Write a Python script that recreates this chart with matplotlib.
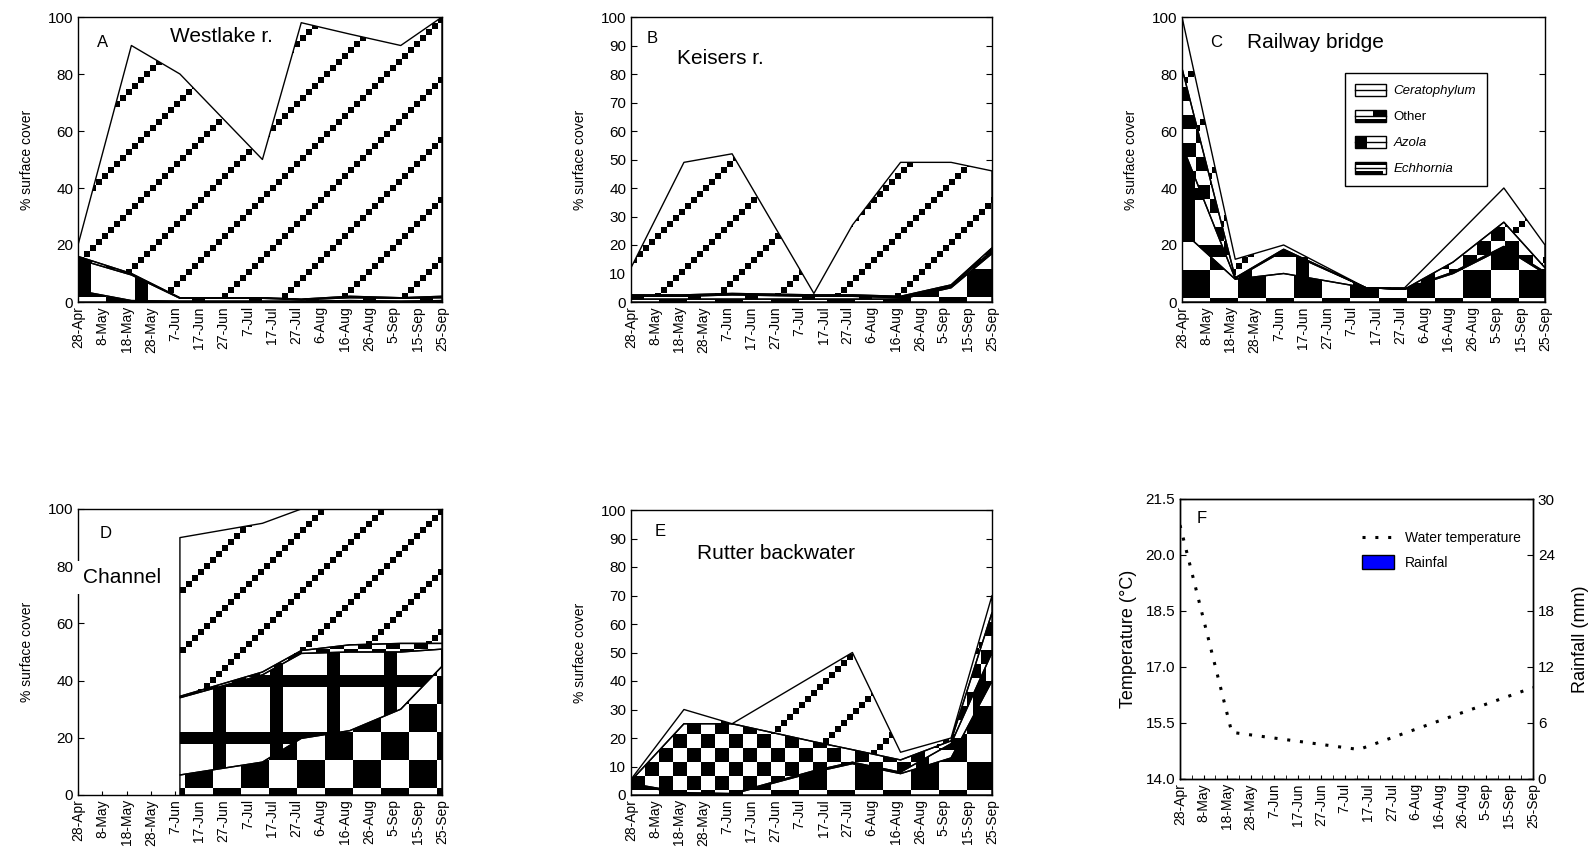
import numpy as np
import matplotlib
matplotlib.use("Agg")
import matplotlib.pyplot as plt
from matplotlib.path import Path
from matplotlib.patches import Rectangle, Patch
from matplotlib.legend_handler import HandlerBase
from matplotlib.lines import Line2D

plt.rcParams['font.family'] = ['Liberation Sans', 'DejaVu Sans']

# x axis: days after 28 April, ticks every 10 days
tick_days = list(range(0, 151, 10))
tick_labels = ["28-Apr", "8-May", "18-May", "28-May", "7-Jun", "17-Jun", "27-Jun", "7-Jul",
               "17-Jul", "27-Jul", "6-Aug", "16-Aug", "26-Aug", "5-Sep", "15-Sep", "25-Sep"]
sample_days = [0, 22, 42, 76, 92, 112, 133, 150]

# % surface cover per species (stacked bottom -> top)
azolla_A = [4, 0.5, 0.3, 0.3, 0.3, 0.5, 0.3, 0.5]
cerato_A = [11, 9, 1, 1, 0.5, 1, 1, 1]
other_A = [1, 0.5, 0.2, 0.2, 0.2, 0.5, 0.2, 0.5]
eich_A = [4, 80, 78.5, 48.5, 97, 92, 88.5, 98]

azolla_B = [1, 1, 1, 1, 1, 1, 5, 17]
cerato_B = [1, 1, 1.5, 1, 1, 0.5, 0.5, 1]
other_B = [0.5, 0.5, 0.5, 0.5, 0.5, 0.5, 0.5, 1]
eich_B = [9.5, 46.5, 49, 0.5, 24.5, 47, 43, 27]

azolla_C = [25, 8, 10, 5, 4.5, 10, 19, 10]
cerato_C = [30, 0.2, 8, 0, 0, 0.5, 0.5, 0.5]
other_C = [27, 0.3, 0.5, 0, 0, 3.5, 8.5, 1.5]
eich_C = [18, 6.5, 1.5, 0, 0.5, 8, 12, 8]

azolla_D = [np.nan, np.nan, 7, 11.5, 19.8, 22.5, 30, 45]
cerato_D = [np.nan, np.nan, 27, 30.5, 29.7, 27.5, 20, 6]
other_D = [np.nan, np.nan, 0.5, 1, 1, 2.5, 3, 2]
eich_D = [np.nan, np.nan, 55.5, 52, 49.5, 47.5, 47, 47]

azolla_E = [3.5, 0.5, 0.3, 8, 11, 7.5, 13, 40]
cerato_E = [0.5, 0.3, 0.2, 0.5, 0.5, 0.5, 5, 10]
other_E = [1, 24.2, 24.5, 10.2, 4.4, 4.3, 1, 14]
eich_E = [0.5, 5, 0, 23.3, 34.1, 2.7, 1, 6]

water_temp = [20.8, 15.25, 15.08, 14.79, 15.15, 15.6, 16.07, 16.45]
rainfall_mm = [0, 0, 0, 0, 0, 0, 0, 0]

W_PX, H_PX = 1592, 857
fig = plt.figure(figsize=(W_PX / 100, H_PX / 100), dpi=100)


def px_axes(left, top, right, bottom):
    return fig.add_axes([left / W_PX, 1 - bottom / H_PX,
                         (right - left) / W_PX, (bottom - top) / H_PX])


def texture(kind, w, h, dx=0, dy=0):
    yy, xx = np.mgrid[0:h, 0:w]
    xx = xx - dx
    yy = yy - dy
    if kind == "checker_big":
        t = (xx // 28 + yy // 28) % 2
    elif kind == "checker_small":
        t = (xx // 14 + yy // 14) % 2
    elif kind == "grid":
        t = ((xx % 57) < 13) | ((yy % 57) < 12)
    else:  # diagonal chain of squares
        t = ((xx // 6 + yy // 6) % 10) == 0
    return t.astype(float)


kinds = ["checker_big", "grid", "checker_small", "diag"]


def style_axes(ax, yticks):
    ax.set_xlim(0, 150)
    ax.set_ylim(0, 100)
    ax.set_xticks(tick_days)
    ax.set_xticklabels(tick_labels, rotation=90, fontsize=10)
    ax.set_yticks(yticks)
    ax.tick_params(axis='y', labelsize=11, direction='in', length=4, right=True)
    ax.tick_params(axis='x', direction='in', length=3, pad=3)
    for s in ax.spines.values():
        s.set_linewidth(1.0)
        s.set_zorder(4)
    ax.set_ylabel("% surface cover", fontsize=10, labelpad=10)


def cover_panel(ax, layers, yticks, offsets=None):
    offsets = offsets or {}
    pos = ax.get_position()
    w = int(round(pos.width * W_PX))
    h = int(round(pos.height * H_PX))
    x = np.array(sample_days, float)
    base = np.zeros(len(sample_days))
    for vals, kind in zip(layers, kinds):
        top = base + np.array(vals, float)
        poly = ax.fill_between(x, base, top, facecolor='none', edgecolor='black',
                               linewidth=1.0, zorder=3)
        paths = poly.get_paths()
        if paths:
            dx, dy = offsets.get(kind, (0, 0))
            img = ax.imshow(texture(kind, w, h, dx, dy), cmap='gray_r', vmin=0, vmax=1,
                            interpolation='nearest', aspect='auto',
                            extent=(0, 150, 0, 100), zorder=2)
            img.set_clip_path(Path.make_compound_path(*paths), ax.transData)
        base = top
    style_axes(ax, yticks)


axA = px_axes(78, 17, 442, 302)
cover_panel(axA, [azolla_A, cerato_A, other_A, eich_A], range(0, 101, 20))
axA.text(0.052, 0.912, "A", transform=axA.transAxes, fontsize=12, va='center', zorder=6)
axA.text(0.253, 0.93, "Westlake r.", transform=axA.transAxes, fontsize=15, va='center', zorder=6)

axB = px_axes(631, 17, 992, 302)
cover_panel(axB, [azolla_B, cerato_B, other_B, eich_B], range(0, 101, 10))
axB.text(0.044, 0.926, "B", transform=axB.transAxes, fontsize=12, va='center', zorder=6)
axB.text(0.127, 0.853, "Keisers r.", transform=axB.transAxes, fontsize=15, va='center', zorder=6)

axC = px_axes(1182, 17, 1545, 302)
cover_panel(axC, [azolla_C, cerato_C, other_C, eich_C], range(0, 101, 20),
            offsets={"checker_big": (0, 1)})
axC.text(0.077, 0.912, "C", transform=axC.transAxes, fontsize=12, va='center', zorder=6)
axC.text(0.179, 0.912, "Railway bridge", transform=axC.transAxes, fontsize=15, va='center', zorder=6)


class Swatch:
    def __init__(self, blocks):
        self.blocks = blocks


class SwatchHandler(HandlerBase):
    def create_artists(self, legend, orig_handle, xdescent, ydescent, width, height, fontsize, trans):
        x0, y0 = -xdescent, -ydescent
        arts = [Rectangle((x0, y0), width, height, facecolor='white', edgecolor='black',
                          linewidth=1.0, transform=trans)]
        for (rx, ry, rw, rh) in orig_handle.blocks:
            arts.append(Rectangle((x0 + rx * width, y0 + ry * height), rw * width, rh * height,
                                  facecolor='black', edgecolor='none', transform=trans))
        arts.append(Line2D([x0, x0 + width], [y0 + height / 2] * 2, color='black',
                           linewidth=1.0, transform=trans))
        return arts


legend_names = ["Ceratophylum", "Other", "Azola", "Echhornia"]
swatches = [Swatch([]),
            Swatch([(0.6, 0.5, 0.4, 0.5), (0, 0, 1, 0.2)]),
            Swatch([(0, 0, 0.4, 1)]),
            Swatch([(0, 0.75, 1, 0.25), (0, 0, 0.9, 0.2)])]
legC = axC.legend(swatches, legend_names, handler_map={Swatch: SwatchHandler()},
                  loc='upper left', bbox_to_anchor=(0.43, 0.825), fontsize=9.5,
                  frameon=True, fancybox=False, edgecolor='black', framealpha=1,
                  handlelength=2.3, handleheight=1.0, labelspacing=0.95,
                  borderpad=0.8, handletextpad=0.6)
legC.get_frame().set_linewidth(1.0)
legC.set_zorder(7)
for i, t in enumerate(legC.get_texts()):
    if i != 1:
        t.set_style('italic')

axD = px_axes(78, 509, 442, 795)
cover_panel(axD, [azolla_D, cerato_D, other_D, eich_D], range(0, 101, 20),
            offsets={"checker_big": (23, 27), "grid": (21, 52)})
axD.text(0.06, 0.916, "D", transform=axD.transAxes, fontsize=12, va='center', zorder=6)
axD.text(0.014, 0.76, "Channel", transform=axD.transAxes, fontsize=15, va='center', zorder=6,
         clip_on=False, bbox=dict(facecolor='white', edgecolor='none', pad=5))

axE = px_axes(631, 510, 992, 795)
cover_panel(axE, [azolla_E, cerato_E, other_E, eich_E], range(0, 101, 10))
axE.text(0.066, 0.923, "E", transform=axE.transAxes, fontsize=12, va='center', zorder=6)
axE.text(0.183, 0.849, "Rutter backwater", transform=axE.transAxes, fontsize=15, va='center', zorder=6)

# Panel F: temperature and rainfall
axF = px_axes(1180, 499, 1533, 779)
axF2 = axF.twinx()
axF2.bar(sample_days, rainfall_mm, width=4, color='blue', edgecolor='black', linewidth=1.0)
axF2.set_ylim(0, 30)
axF2.set_yticks(range(0, 31, 6))
axF2.tick_params(axis='y', labelsize=11, direction='in', length=4)
axF2.set_ylabel("Rainfall (mm)", fontsize=13, labelpad=12)
axF.plot(sample_days, water_temp, color='black', linestyle=(0, (1, 3.2)), linewidth=2.2)
axF.set_xlim(0, 150)
axF.set_ylim(14, 21.5)
yt = np.arange(14, 21.6, 1.5)
axF.set_yticks(yt)
axF.set_yticklabels(["%.1f" % v for v in yt])
axF.set_xticks(tick_days)
axF.set_xticklabels(tick_labels, rotation=90, fontsize=10)
axF.set_xticks(range(5, 150, 10), minor=True)
axF.tick_params(axis='y', labelsize=11, direction='in', length=4)
axF.tick_params(axis='x', which='both', direction='in', length=3, pad=3)
axF.set_ylabel("Temperature (\u00b0C)", fontsize=13, labelpad=6)
for s in list(axF.spines.values()) + list(axF2.spines.values()):
    s.set_linewidth(1.0)
axF.text(0.048, 0.93, "F", transform=axF.transAxes, fontsize=12, va='center')
handlesF = [Line2D([], [], color='black', linestyle=(0, (1, 3.2)), linewidth=2.2),
            Patch(facecolor='blue', edgecolor='black', linewidth=1.0)]
axF.legend(handlesF, ["Water temperature", "Rainfal"], loc='upper right',
           bbox_to_anchor=(1.0, 0.93), fontsize=10, frameon=False,
           handlelength=2.3, handleheight=1.1, labelspacing=0.7)

fig.savefig("out.png", dpi=100)
